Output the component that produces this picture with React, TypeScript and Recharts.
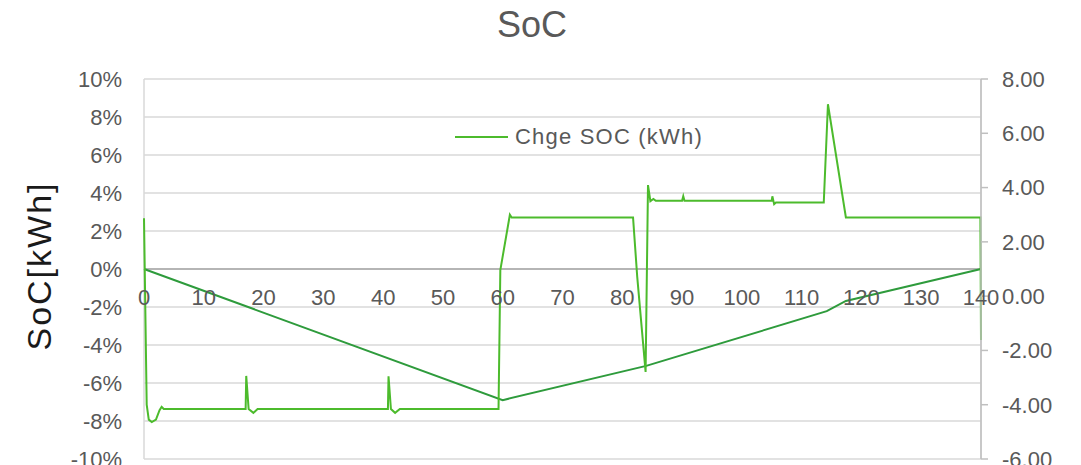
import { LineChart, Line, XAxis, YAxis, CartesianGrid, ReferenceLine, ReferenceDot, Legend } from 'recharts'

const xTicks = [0, 10, 20, 30, 40, 50, 60, 70, 80, 90, 100, 110, 120, 130, 140]
const pctTicks = [-10, -8, -6, -4, -2, 0, 2, 4, 6, 8, 10]
const kwhTicks = [-6, -4, -2, 0, 2, 4, 6, 8]

// SoC in % (left axis)
const socTime = [0, 60, 84, 114.2, 117.4, 140]
const socPct = [0, -6.9, -5.1, -2.22, -1.68, 0]

// Chge SOC in kWh (right axis)
const chgTime = [
  0, 0.45, 0.8, 1.3, 2.0, 2.6, 2.95, 3.3, 17.0, 17.1, 17.5, 18.3, 19.0, 40.8, 40.9, 41.3, 42.0, 42.8,
  59.3, 59.6, 61.2, 61.5, 81.8, 82.5, 83.9, 84.3, 84.7, 85.2, 85.6, 90.0, 90.2, 90.4, 105.0, 105.1,
  105.4, 105.7, 113.7, 114.4, 117.4, 139.9, 140,
]
const chgKwh = [
  2.87, -4.0, -4.55, -4.64, -4.55, -4.2, -4.08, -4.16, -4.16, -2.94, -4.16, -4.3, -4.16, -4.16, -2.95, -4.16, -4.3, -4.16,
  -4.16, 0.96, 3.0, 2.9, 2.9, 0.71, -2.79, 4.09, 3.5, 3.58, 3.51, 3.51, 3.68, 3.51, 3.51, 3.68,
  3.39, 3.45, 3.45, 7.07, 2.9, 2.9, -1.62,
]

const socData = socTime.map((x, i) => ({ x, soc: socPct[i] }))
const chgData = chgTime.map((x, i) => ({ x, chg: chgKwh[i] }))

const font = '"Liberation Sans", Arial, sans-serif'
const textGray = '#595959'
const socGreen = '#2e9b3c'
const chgGreen = '#4cbb2c'

const renderLegend = () => (
  <div style={{ display: 'flex', alignItems: 'center', fontFamily: font, fontSize: 22, color: textGray, letterSpacing: 1.2, whiteSpace: 'nowrap' }}>
    <svg width={53} height={4}>
      <line x1={0} y1={2} x2={53} y2={2} stroke={chgGreen} strokeWidth={2} />
    </svg>
    <span style={{ marginLeft: 7 }}>Chge SOC (kWh)</span>
  </div>
)

export default function App() {
  return (
    <div style={{ position: 'absolute', left: 0, top: 0, width: 1081, height: 465, background: '#fff', overflow: 'hidden' }}>
      <LineChart width={1081} height={465} margin={{ top: 79, right: 10, bottom: 6, left: 10 }} style={{ overflow: 'visible' }}>
        <CartesianGrid yAxisId="left" stroke="#d9d9d9" strokeWidth={1.5} />
        <XAxis type="number" dataKey="x" domain={[0, 140]} ticks={xTicks} height={0} tick={false} axisLine={false} tickLine={false} />
        <YAxis
          yAxisId="left"
          orientation="left"
          width={134}
          domain={[-10, 10]}
          ticks={pctTicks}
          interval={0}
          tickFormatter={(v: number) => `${v}%`}
          axisLine={false}
          tickLine={false}
          tickSize={0}
          tickMargin={22}
          tick={{ fill: textGray, fontSize: 22, fontFamily: font }}
        />
        <YAxis
          yAxisId="right"
          orientation="right"
          width={90}
          domain={[-6, 8]}
          ticks={kwhTicks}
          interval={0}
          tickFormatter={(v: number) => v.toFixed(2)}
          axisLine={{ stroke: '#bfbfbf', strokeWidth: 1.5 }}
          tickLine={{ stroke: '#bfbfbf', strokeWidth: 1.5 }}
          tickSize={7}
          tickMargin={14}
          tick={{ fill: textGray, fontSize: 22, fontFamily: font }}
        />
        <ReferenceLine yAxisId="left" y={0} stroke="#a6a6a6" strokeWidth={1.5} />
        {xTicks.map((t) => (
          <ReferenceDot
            key={t}
            yAxisId="left"
            x={t}
            y={0}
            r={0}
            fill="none"
            stroke="none"
            label={{ value: t, position: 'bottom', offset: 20, fill: textGray, fontSize: 22, fontFamily: font }}
          />
        ))}
        <Line
          yAxisId="left"
          data={socData}
          dataKey="soc"
          type="linear"
          stroke={socGreen}
          strokeWidth={2}
          dot={false}
          legendType="none"
          isAnimationActive={false}
        />
        <Line
          yAxisId="right"
          data={chgData}
          dataKey="chg"
          name="Chge SOC (kWh)"
          type="linear"
          stroke={chgGreen}
          strokeWidth={2}
          dot={false}
          isAnimationActive={false}
        />
        <Legend
          layout="horizontal"
          verticalAlign="middle"
          align="center"
          content={renderLegend}
          wrapperStyle={{ top: 124, left: 455, width: 'auto' }}
        />
      </LineChart>
      <svg width={1081} height={465} style={{ position: 'absolute', left: 0, top: 0, pointerEvents: 'none' }}>
        <text x={532} y={37} textAnchor="middle" fontSize={36} fontFamily={font} fill={textGray}>
          SoC
        </text>
        <text transform="translate(51,266) rotate(-90)" textAnchor="middle" fontSize={34} letterSpacing={2} fontFamily={font} fill="#1a1a1a">
          SoC[kWh]
        </text>
      </svg>
    </div>
  )
}
